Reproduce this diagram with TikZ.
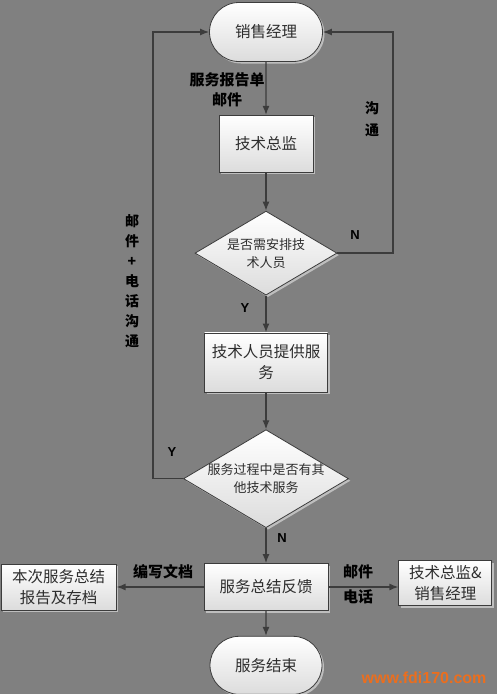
\documentclass[tikz,border=0pt]{standalone}
\usepackage{fontspec}
\setmainfont{Liberation Sans}
\newfontfamily\cjk{Noto Sans CJK SC}
\usetikzlibrary{arrows.meta,positioning,shapes.geometric,shapes.misc,shadows}
\definecolor{BgGray}{RGB}{128,128,128}
\definecolor{EdgeGray}{RGB}{60,60,60}
\definecolor{ShadeGray}{RGB}{190,190,190}
\definecolor{BoxBottom}{RGB}{220,220,220}
\definecolor{InkGray}{RGB}{45,45,45}
\definecolor{MarkOrange}{RGB}{235,110,30}
\tikzset{
  boxshade/.style={draw=EdgeGray,line width=0.8pt,top color=white,bottom color=BoxBottom,
    drop shadow={shadow xshift=2pt,shadow yshift=-2pt,fill=ShadeGray,opacity=1},
    text=InkGray,align=center,inner sep=0pt},
  terminal/.style={boxshade,rounded rectangle,minimum width=113pt,minimum height=59pt,
    font=\cjk\fontsize{15.5pt}{21pt}\selectfont},
  process/.style={boxshade,rectangle,font=\cjk\fontsize{15.5pt}{21pt}\selectfont},
  decision/.style={boxshade,diamond,aspect=2,inner xsep=-15pt,
    font=\cjk\fontsize{13pt}{18pt}\selectfont},
  note/.style={font=\cjk\bfseries\fontsize{15pt}{20pt}\selectfont,text=black,align=center,inner sep=0pt},
  vnote/.style={font=\cjk\bfseries\fontsize{14pt}{20pt}\selectfont,text=black,align=center,inner sep=0pt},
  yesno/.style={font=\bfseries\fontsize{13pt}{15pt}\selectfont,text=black,inner sep=0pt},
  arrow/.style={-{Latex[length=9pt,width=7pt]},line width=1.3pt,EdgeGray}
}
\begin{document}
\begin{tikzpicture}[x=1pt,y=-1pt]
  \useasboundingbox[fill=BgGray] (0,0) rectangle (497,694);
  \node[terminal] (term1) at (266,32) {销售经理};
  \node[process,minimum width=94pt,minimum height=57pt,below=53pt of term1] (box1) {技术总监};
  \node[decision,minimum width=142pt,minimum height=84pt,below=38pt of box1] (dia1) {是否需安排技\\术人员};
  \node[process,minimum width=123pt,minimum height=59pt,below=37pt of dia1] (box2) {技术人员提供服\\务};
  \node[decision,minimum width=165pt,minimum height=98pt,below=37pt of box2] (dia2) {服务过程中是否有其\\他技术服务};
  \node[process,minimum width=124pt,minimum height=47pt,below=35pt of dia2] (box3) {服务总结反馈};
  \node[terminal,minimum width=112pt,minimum height=58pt,below=25pt of box3] (term2) {服务结束};
  \node[process,minimum width=115pt,minimum height=46pt,left=87pt of box3] (sumbox) {本次服务总结\\报告及存档};
  \node[process,minimum width=93pt,minimum height=45pt,right=70pt of box3,yshift=4pt] (infobox) {技术总监\&\\销售经理};
  \coordinate (lloop) at (153,0);
  \coordinate (rloop) at (393,0);
  \draw[arrow] (term1) -- (box1);
  \draw[arrow] (box1) -- (dia1);
  \draw[arrow] (dia1) -- (box2);
  \draw[arrow] (box2) -- (dia2);
  \draw[arrow] (dia2) -- (box3);
  \draw[arrow] (box3) -- (term2);
  \draw[arrow] (box3) -- (sumbox);
  \draw[arrow] (box3.east) -- (box3.east -| infobox.west);
  \draw[arrow] (dia1.east) -- (dia1.east -| rloop) |- (term1.east);
  \draw[arrow] (dia2.west) -- (dia2.west -| lloop) |- (term1.west);
  \node[note] (mail1) at (227,80) {服务报告单};
  \node[note] (mail2) at (227,100) {邮件};
  \node[vnote,font=\cjk\bfseries\fontsize{14pt}{22pt}\selectfont] (talk) at (372,119) {沟\\通};
  \node[vnote] (mailtalk) at (132,281) {邮\\件\\+\\电\\话\\沟\\通};
  \node[yesno] (n1) at (355,235) {N};
  \node[yesno] (y1) at (245,308) {Y};
  \node[yesno] (y2) at (172,452) {Y};
  \node[yesno] (n2) at (282,538) {N};
  \node[note] (write) at (163,572) {编写文档};
  \node[note] (mail3) at (358,572) {邮件};
  \node[note] (phone) at (358,597) {电话};
  \node[font=\bfseries\fontsize{16pt}{18pt}\selectfont,text=MarkOrange,inner sep=0pt] (mark) at (424,678) {www.fdi170.com};
\end{tikzpicture}
\end{document}
